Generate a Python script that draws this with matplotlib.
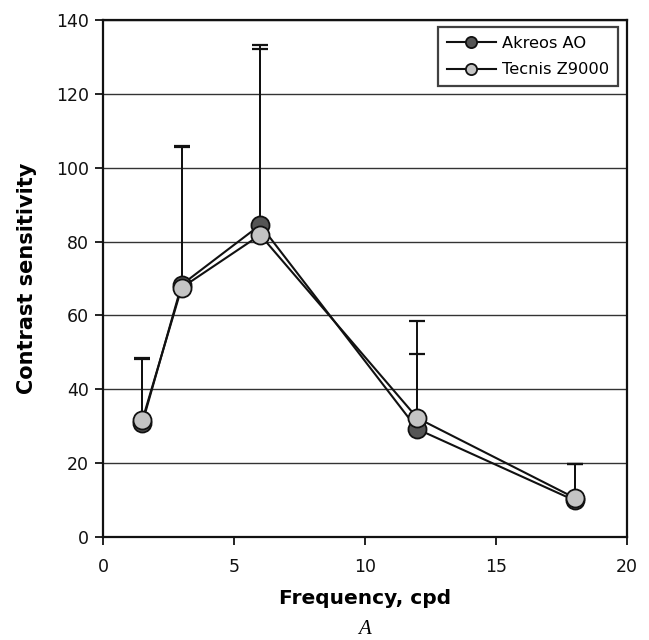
import matplotlib
matplotlib.use("Agg")
import matplotlib.pyplot as plt
import numpy as np

freq = [1.5, 3, 6, 12, 18]
akreos = [30.8, 68.3, 84.5, 29.2, 9.9]
tecnis = [31.6, 67.5, 81.8, 32.2, 10.6]
akreos_upper = [48.4, 105.5, 133.3, 49.6, 19.7]
tecnis_upper = [48.2, 105.8, 132.2, 58.6, 19.7]

akreos_err = [u - m for u, m in zip(akreos_upper, akreos)]
tecnis_err = [u - m for u, m in zip(tecnis_upper, tecnis)]

fig = plt.figure(figsize=(6.49, 6.40), dpi=100)
ax = fig.add_axes([103/649, 1 - 537/640, (627-103)/649, (537-20)/640])

ax.set_xlim(0, 20)
ax.set_ylim(0, 140)
ax.set_xticks([0, 5, 10, 15, 20])
ax.set_yticks(range(0, 141, 20))
ax.yaxis.grid(True, color='#333333', linewidth=1.0)
ax.set_axisbelow(True)

for vals, err in [(akreos, akreos_err), (tecnis, tecnis_err)]:
    ax.errorbar(freq, vals, yerr=[np.zeros(len(err)), err], fmt='none',
                ecolor='#111111', elinewidth=1.4, capsize=6, capthick=1.6, zorder=2)

for vals, fc, lab in [(akreos, '#555555', 'Akreos AO'),
                      (tecnis, '#c4c4c4', 'Tecnis Z9000')]:
    ax.plot(freq, vals, color='#111111', linewidth=1.5, marker='o',
            markersize=13, markerfacecolor=fc, markeredgecolor='#111111',
            markeredgewidth=1.3, label=lab, zorder=3)

for s in ax.spines.values():
    s.set_linewidth(1.6)
    s.set_color('#111111')
ax.tick_params(axis='both', direction='out', length=6, width=1.3,
               labelsize=12.5, colors='#111111')
ax.tick_params(axis='x', pad=9)
ax.tick_params(axis='y', pad=4)

ax.set_xlabel('Frequency, cpd', fontsize=14.5, fontweight='bold', labelpad=9.5)
ax.set_ylabel('Contrast sensitivity', fontsize=15, fontweight='bold', labelpad=14)

leg = ax.legend(loc='upper right', bbox_to_anchor=(0.983, 0.9865), fontsize=11.7,
                frameon=True, fancybox=False, edgecolor='#111111',
                borderpad=0.55, borderaxespad=0, handlelength=3.0, markerscale=0.62,
                labelspacing=0.7, handletextpad=0.4)
leg.get_frame().set_linewidth(1.6)

fig.text(0.5*(103+627)/649, 1 - 630/640, 'A', fontsize=15, style='italic',
         family='Liberation Serif', ha='center', va='center')

fig.savefig('out.png', dpi=100)
